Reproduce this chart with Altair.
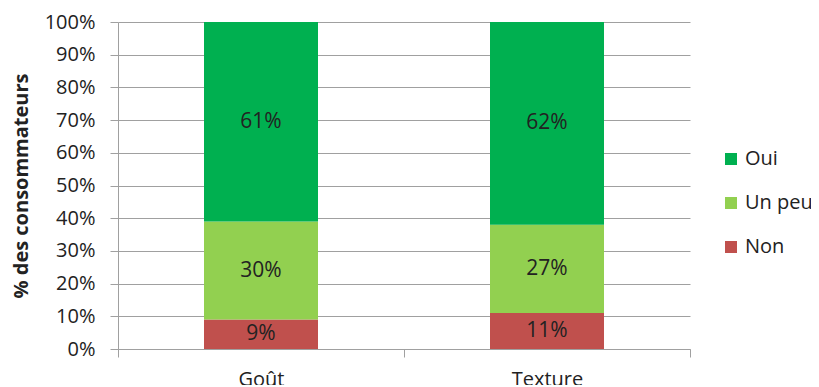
import altair as alt
import pandas as pd

categories = ["Goût", "Texture"]
responses = ["Non", "Un peu", "Oui"]
non = [9, 11]
un_peu = [30, 27]
oui = [61, 62]
legend_order = ["Oui", "Un peu", "Non"]
legend_colors = ["#00B050", "#92D050", "#C0504D"]
y_ticks = [0, 10, 20, 30, 40, 50, 60, 70, 80, 90, 100]

rows = []
for i, c in enumerate(categories):
    for j, (r, vals) in enumerate(zip(responses, [non, un_peu, oui])):
        rows.append({"cat": c, "resp": r, "value": vals[i], "order": j})
df = pd.DataFrame(rows)

FONT = "Open Sans"
GRAY = "#A0A0A0"
TXT = "#222222"

base = alt.Chart(df).transform_stack(
    stack="value", groupby=["cat"], as_=["y0", "y1"],
    sort=[alt.SortField("order", order="ascending")]
).transform_calculate(
    mid="(datum.y0 + datum.y1) / 2", label="datum.value + '%'"
)

xaxis = alt.Axis(tickBand="extent", domainColor=GRAY, tickColor=GRAY,
                 tickSize=8, labelPadding=12, labelFontSize=20,
                 labelColor=TXT, labelFont=FONT, labelAngle=0, grid=False)
xscale = alt.Scale(paddingInner=0, paddingOuter=0)

yscale = alt.Scale(domain=[0, 100], nice=False)
yaxis = alt.Axis(values=y_ticks, labelExpr="datum.value + '%'",
                 labelOverlap=False, labelFlush=False,
                 grid=True, gridColor=GRAY, domainColor=GRAY,
                 tickColor=GRAY, tickSize=8, labelPadding=15,
                 labelFontSize=20, labelColor=TXT, labelFont=FONT,
                 title="% des consommateurs", titleFont=FONT,
                 titleFontSize=20, titleFontWeight="bold",
                 titleColor=TXT, titleAngle=270,
                 titleBaseline="middle", titleX=-97, titleY=163.5)

bars = base.mark_bar(size=114).encode(
    x=alt.X("cat:N", sort=categories, title=None, scale=xscale, axis=xaxis),
    y=alt.Y("y0:Q", scale=yscale, axis=yaxis),
    y2="y1:Q",
    color=alt.Color("resp:N",
                    scale=alt.Scale(domain=legend_order, range=legend_colors),
                    legend=alt.Legend(title=None, orient="none", legendX=603,
                                      legendY=127, symbolType="square",
                                      symbolSize=144, symbolStrokeWidth=0,
                                      labelFontSize=20, labelFont=FONT,
                                      labelColor=TXT, labelOffset=4,
                                      rowPadding=24)),
)

labels = base.mark_text(fontSize=21, font=FONT, color=TXT).encode(
    x=alt.X("cat:N", sort=categories, title=None, scale=xscale, axis=xaxis),
    y=alt.Y("mid:Q", scale=yscale, axis=yaxis),
    text="label:N",
)

chart = (bars + labels).properties(
    width=572, height=327,
    autosize=alt.AutoSizeParams(type="none"),
    padding={"left": 110, "top": 14, "right": 121, "bottom": 36},
).configure_view(stroke=None)

chart.save("out.html", embed_options={"renderer": "svg", "actions": False})
